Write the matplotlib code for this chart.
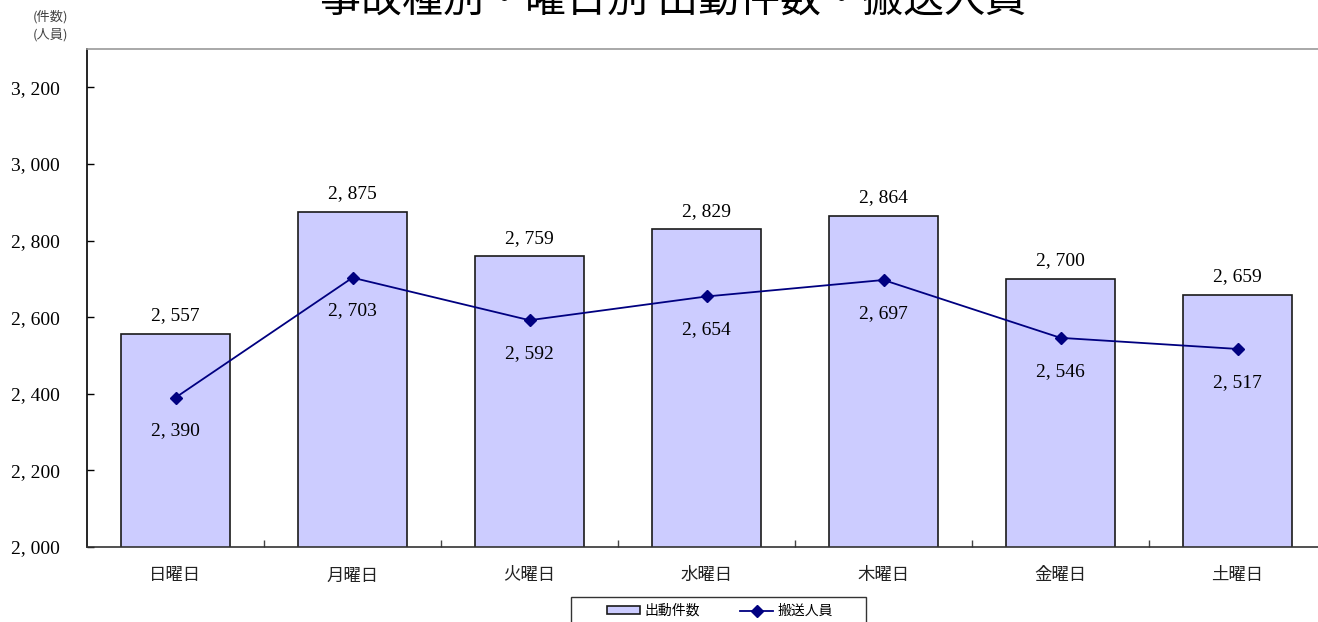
import numpy as np
import matplotlib
matplotlib.use("Agg")
import matplotlib.pyplot as plt
from matplotlib.patches import Rectangle
from matplotlib.ticker import FixedLocator, FuncFormatter

days = ['日曜日', '月曜日', '火曜日', '水曜日', '木曜日', '金曜日', '土曜日']
dispatches = [2557, 2875, 2759, 2829, 2864, 2700, 2659]   # 出動件数
transported = [2390, 2703, 2592, 2654, 2697, 2546, 2517]  # 搬送人員
yticks = [2000, 2200, 2400, 2600, 2800, 3000, 3200]

jp = ['Noto Sans CJK JP', 'DejaVu Sans']
num = ['Liberation Serif', 'DejaVu Serif']

def fmt(v):
    return '{:,}'.format(int(v)).replace(',', ', ')

fig = plt.figure(figsize=(13.18, 6.22), dpi=100)
ax = fig.add_axes([87/1318, 75/622, 1239/1318, 498/622])

x = np.arange(len(days))
bars = ax.bar(x, dispatches, width=0.62, color='#ccccff', edgecolor='#1a1a1a',
              linewidth=1.2, label='出動件数', zorder=2)
line, = ax.plot(x, transported, color='#000080', linewidth=1.3, marker='D', markersize=6.5,
                markerfacecolor='#000080', markeredgecolor='#000080', label='搬送人員', zorder=3)

for xi, v in zip(x, dispatches):
    ax.annotate(fmt(v), (xi, v), xytext=(0, 13), textcoords='offset points',
                ha='center', va='center', fontsize=14, family=num)
for xi, v in zip(x, transported):
    ax.annotate(fmt(v), (xi, v), xytext=(0, -24), textcoords='offset points',
                ha='center', va='center', fontsize=14, family=num)

ax.set_xlim(-0.5, len(days) - 0.5)
ax.set_ylim(2000, 3300)
ax.yaxis.set_major_locator(FixedLocator(yticks))
ax.yaxis.set_major_formatter(FuncFormatter(lambda v, p: fmt(v)))
ax.tick_params(axis='y', direction='in', length=5, width=1, pad=19.5, labelsize=14)
for lab in ax.get_yticklabels():
    lab.set_family(num)

ax.set_xticks(x)
ax.set_xticklabels(days, family=jp, fontsize=12.5, color='#222222')
ax.set_xticks(np.arange(0.5, len(days) - 0.5, 1), minor=True)
ax.tick_params(axis='x', which='major', length=0, pad=14)
ax.tick_params(axis='x', which='minor', direction='in', length=5, width=1, color='#444444')

ax.spines['left'].set_color('black')
ax.spines['bottom'].set_color('#333333')
ax.spines['top'].set_color('#999999')
ax.spines['right'].set_visible(False)
for s in ['left', 'bottom', 'top']:
    ax.spines[s].set_linewidth(1.2)

fig.text(673/1318, 1 - 13/622, '事故種別・曜日別 出動件数・搬送人員', ha='center', va='baseline',
         fontsize=29.5, family=jp)
fig.text(50/1318, 1 - 17/622, '(件数)', ha='center', va='center', fontsize=9.5, family=jp, color='#444444')
fig.text(50/1318, 1 - 35/622, '(人員)', ha='center', va='center', fontsize=9.5, family=jp, color='#444444')

# legend box, runs past the bottom edge like the reference
fig.patches.append(Rectangle((571/1318, 1 - 640/622), 295/1318, 43/622, transform=fig.transFigure,
                             facecolor='white', edgecolor='#333333', linewidth=1.0))
leg = fig.legend(handles=[bars, line], labels=['出動件数', '搬送人員'],
                 loc='center', bbox_to_anchor=(720/1318, 1 - 611/622), ncol=2,
                 frameon=False, prop={'family': jp, 'size': 10},
                 handlelength=2.4, handleheight=0.5, columnspacing=2.9,
                 borderpad=0.0, handletextpad=0.3)

fig.savefig('out.png', dpi=100)
